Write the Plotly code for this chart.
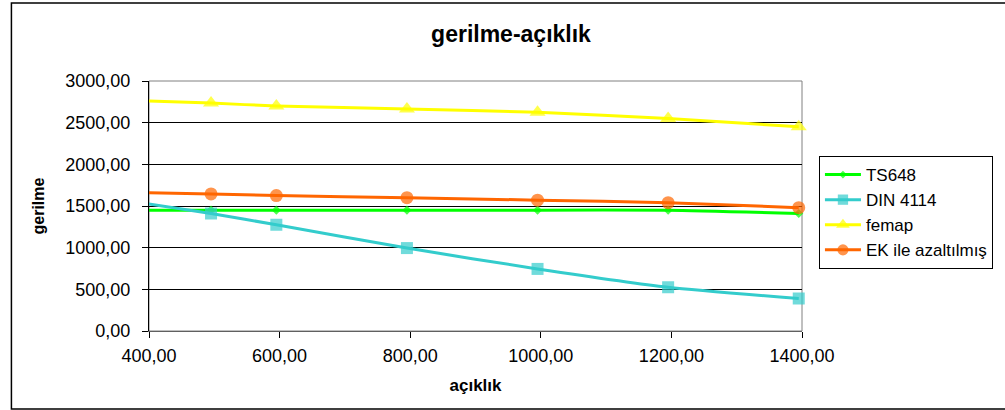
import plotly.graph_objects as go

aciklik = [395, 495, 595, 795, 995, 1195, 1395]
ts648 = [1450, 1450, 1450, 1450, 1450, 1450, 1410]
din4114 = [1530, 1410, 1275, 995, 745, 525, 390]
femap = [2760, 2735, 2700, 2665, 2625, 2550, 2450]
ek_azaltilmis = [1660, 1645, 1625, 1600, 1570, 1540, 1480]

x_ticks = [400, 600, 800, 1000, 1200, 1400]
y_ticks = [0, 500, 1000, 1500, 2000, 2500, 3000]

series = [
    ("TS648", ts648, "#00FF00", "diamond", 7),
    ("DIN 4114", din4114, "#33CCCC", "square", 12),
    ("femap", femap, "#FFFF00", "triangle-up", 14),
    ("EK ile azaltılmış", ek_azaltilmis, "#FF6600", "circle", 13),
]

fig = go.Figure()
for name, vals, col, sym, sz in series:
    sizes = [0] + [sz] * (len(vals) - 1)
    fig.add_trace(go.Scatter(
        x=aciklik, y=vals, name=name, mode="lines+markers",
        line=dict(color=col, width=3, shape="spline", smoothing=0.6),
        marker=dict(color=col, symbol=sym, size=sizes, line=dict(width=0)),
        cliponaxis=False,
    ))

fig.update_layout(
    width=1005, height=410,
    margin=dict(l=149, r=201, t=81, b=79),
    paper_bgcolor="white", plot_bgcolor="white",
    separators=",.",
    font=dict(family="Liberation Sans, Arial, sans-serif", color="black"),
    title=dict(text="<b>gerilme-açıklık</b>", x=511 / 1005, xanchor="center",
               y=1 - 34 / 410, yanchor="middle",
               font=dict(size=23, color="black")),
    showlegend=True,
    legend=dict(x=(821 - 149) / 655, y=(331 - 156) / 250, xanchor="left", yanchor="top",
                bordercolor="black", borderwidth=1, bgcolor="white",
                font=dict(size=17), itemwidth=36, tracegroupgap=0),
    shapes=[
        dict(type="rect", xref="paper", yref="paper", x0=0, x1=1, y0=0, y1=1,
             line=dict(color="#808080", width=1), layer="below"),
        dict(type="rect", xref="paper", yref="paper",
             x0=(11 - 149) / 655, x1=(1010 - 149) / 655,
             y0=(331 - 409) / 250, y1=(331 - 3) / 250,
             line=dict(color="black", width=1.5)),
    ],
)

fig.update_xaxes(
    range=[400, 1400], tickvals=x_ticks, tickformat=".2f",
    ticks="outside", ticklen=6, tickcolor="black",
    showgrid=False, zeroline=False, automargin=False,
    showline=True, linecolor="#606060", linewidth=1,
    tickfont=dict(size=18), ticklabelstandoff=2,
    title=dict(text="<b>açıklık</b>", font=dict(size=17), standoff=14),
)
fig.update_yaxes(
    range=[0, 3000], tickvals=y_ticks, tickformat=".2f",
    ticks="outside", ticklen=6, tickcolor="black",
    showgrid=True, gridcolor="black", gridwidth=1, zeroline=False, automargin=False,
    showline=True, linecolor="black", linewidth=1,
    tickfont=dict(size=18), ticklabelstandoff=8,
    title=dict(text="<b>gerilme</b>", font=dict(size=16), standoff=16),
)

fig.write_html("out.html", config={"displayModeBar": False},
               post_script="document.body.style.margin='0';")
